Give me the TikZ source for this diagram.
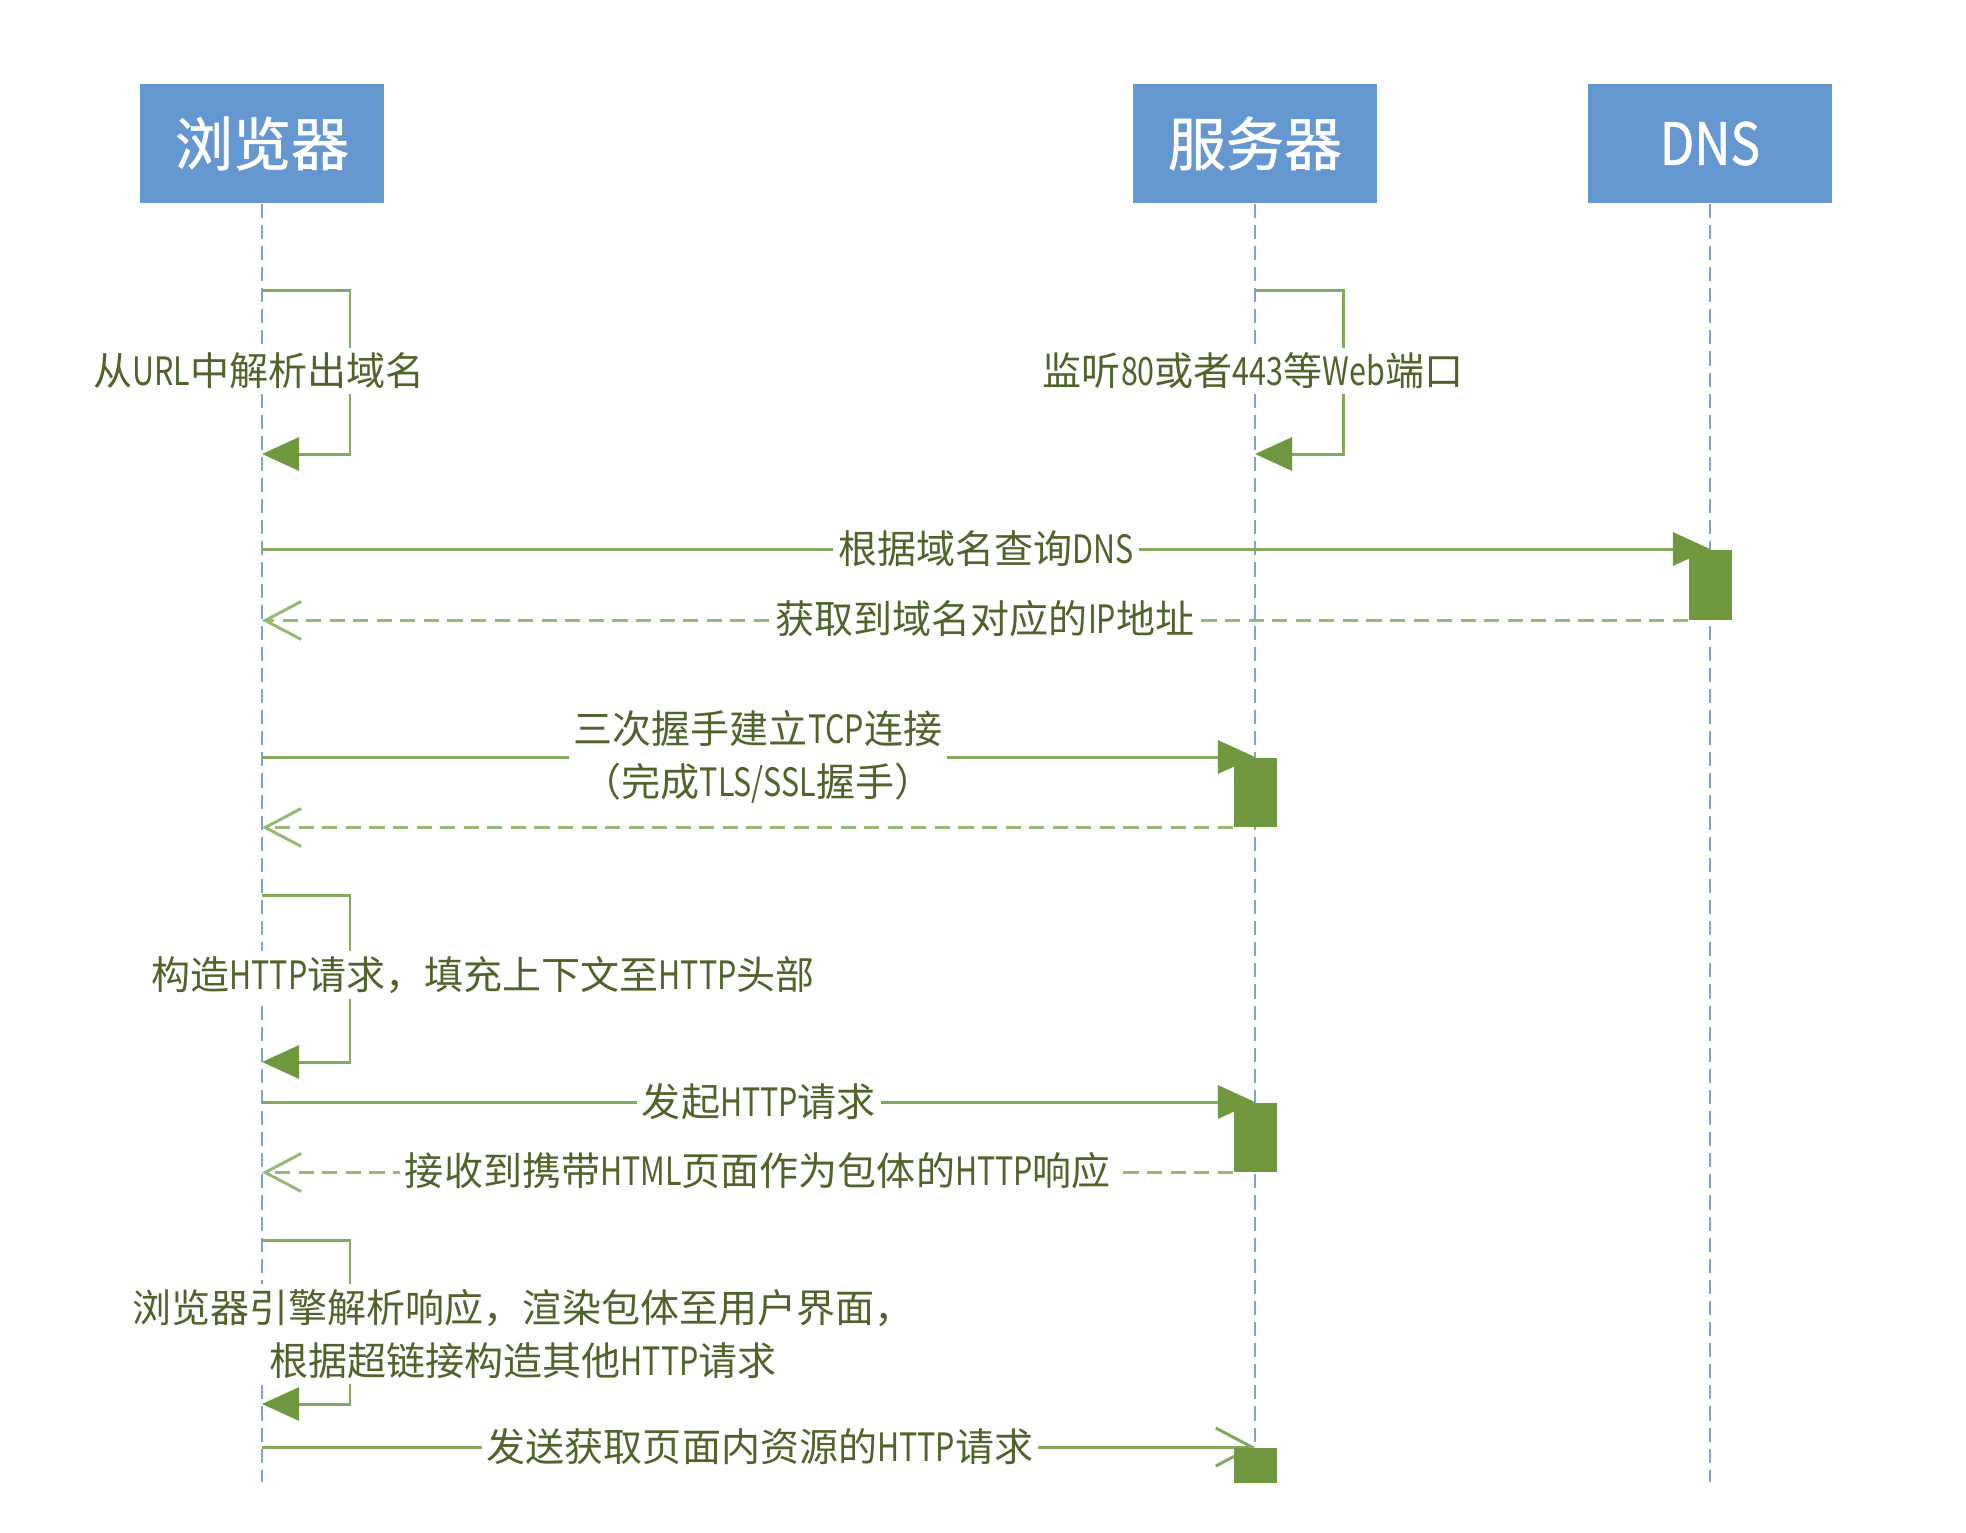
\documentclass[tikz,border=0pt]{standalone}
\usepackage{fontspec}
\setmainfont{Noto Sans CJK SC}
\newfontfamily\titlefont{Noto Sans CJK SC}[FakeBold=1]
\newfontfamily\narrowfont{Noto Sans CJK SC}[FakeStretch=0.78]
\newfontfamily\narrowtitlefont{Noto Sans CJK SC}[FakeStretch=0.86,FakeBold=1]
\newcommand{\nar}[1]{{\narrowfont #1}}
\usetikzlibrary{arrows.meta}
\definecolor{boxblue}{RGB}{101,151,209}
\definecolor{lifeblue}{RGB}{125,162,214}
\definecolor{msggreen}{RGB}{132,168,92}
\definecolor{headgreen}{RGB}{112,152,62}
\definecolor{retgreen}{RGB}{150,185,115}
\definecolor{labelgreen}{RGB}{80,100,42}
\begin{document}
\begin{tikzpicture}[x=0.01cm,y=-0.01cm,
  actor/.style={fill=boxblue, minimum width=2.43cm, minimum height=1.19cm,
    text=white, font=\titlefont\fontsize{16.5pt}{19pt}\selectfont, inner sep=0pt},
  lifeline/.style={draw=lifeblue, line width=0.6pt, dash pattern=on 4pt off 2pt},
  call/.style={draw=msggreen, line width=0.85pt},
  reply/.style={draw=retgreen, line width=0.85pt, dash pattern=on 4.3pt off 2.4pt},
  activation/.style={fill=headgreen, minimum width=0.43cm, inner sep=0pt, anchor=north},
  msglabel/.style={fill=white, text=labelgreen,
    font=\fontsize{11.1pt}{15pt}\selectfont, inner sep=1.5pt, align=center},
  solidhead/.style={-{Triangle[length=0.37cm,width=0.33cm,color=headgreen,fill=headgreen]}},
  openhead/.style={-{Straight Barb[length=0.36cm,width=0.38cm,color=retgreen]}},
  openhead2/.style={-{Straight Barb[length=0.36cm,width=0.38cm,color=msggreen]}}
]
\useasboundingbox (0,0) rectangle (1966,1532);
\fill[white] (0,0) rectangle (1966,1532);

% participants
\node[actor] (browser) at (262,143.5) {浏览器};
\node[actor] (server) at (1255,143.5) {服务器};
\node[actor] (dns) at (1710,143.5) {\narrowtitlefont DNS};

% lifelines
\coordinate (browserEnd) at (262,1482);
\coordinate (serverEnd) at (1255,1482);
\coordinate (dnsEnd) at (1710,1482);
\draw[lifeline] (browser.south) -- (browserEnd);
\draw[lifeline] (server.south) -- (serverEnd);
\draw[lifeline] (dns.south) -- (dnsEnd);

% self call: parse the domain from the URL
\coordinate (b1s) at (262,290);
\coordinate (b1e) at (262,454);
\draw[call, solidhead] (b1s) -- ++(88,0) |- (b1e);
\node[msglabel] (l1) at (259,371) {从\nar{URL}中解析出域名};

% self call: the server listens on its ports
\coordinate (s1s) at (1255,290);
\coordinate (s1e) at (1255,454);
\draw[call, solidhead] (s1s) -- ++(88,0) |- (s1e);
\node[msglabel] (l2) at (1253,371) {监听\nar{80}或者\nar{443}等\nar{Web}端口};

% DNS lookup
\coordinate (b2) at (262,549);
\coordinate (dnsTop) at (1710,549);
\draw[call, solidhead] (b2) -- (dnsTop);
\node[activation, minimum height=0.70cm] (dnsAct) at (dnsTop) {};
\draw[reply, openhead] (dnsAct.south west) -- (dnsAct.south west -| browser);
\node[msglabel] (l3) at (986,549) {根据域名查询\nar{DNS}};
\node[msglabel] (l4) at (985,619) {获取到域名对应的\nar{IP}地址};

% TCP handshake
\coordinate (b3) at (262,757);
\coordinate (srvTop1) at (1255,757);
\draw[call, solidhead] (b3) -- (srvTop1);
\node[activation, minimum height=0.69cm] (srvAct1) at (srvTop1) {};
\draw[reply, openhead] (srvAct1.south west) -- (srvAct1.south west -| browser);
\node[msglabel] (l5) at (758,757) {三次握手建立\nar{TCP}连接\\（完成\nar{TLS/SSL}握手）};

% build the request
\coordinate (b4s) at (262,895);
\coordinate (b4e) at (262,1062);
\draw[call, solidhead] (b4s) -- ++(88,0) |- (b4e);
\node[msglabel] (l6) at (483,975) {构造\nar{HTTP}请求，填充上下文至\nar{HTTP}头部};

% HTTP request and response
\coordinate (b5) at (262,1102);
\coordinate (srvTop2) at (1255,1102);
\draw[call, solidhead] (b5) -- (srvTop2);
\node[activation, minimum height=0.69cm] (srvAct2) at (srvTop2) {};
\draw[reply, openhead] (srvAct2.south west) -- (srvAct2.south west -| browser);
\node[msglabel] (l7) at (759,1102) {发起\nar{HTTP}请求};
\node[msglabel] (l8) at (758,1171) {接收到携带\nar{HTML}页面作为包体的\nar{HTTP}响应};

% rendering in the browser
\coordinate (b6s) at (262,1240);
\coordinate (b6e) at (262,1404);
\draw[call, solidhead] (b6s) -- ++(88,0) |- (b6e);
\node[msglabel] (l9) at (523,1334) {浏览器引擎解析响应，渲染包体至用户界面，\\根据超链接构造其他\nar{HTTP}请求};

% follow-up resource requests
\coordinate (b7) at (262,1447);
\coordinate (srvTop3) at (1255,1447);
\draw[call, openhead2] (b7) -- (srvTop3);
\node[activation, minimum height=0.35cm] (srvAct3) at (srvTop3) {};
\node[msglabel] (l10) at (760,1447) {发送获取页面内资源的\nar{HTTP}请求};
\end{tikzpicture}
\end{document}
